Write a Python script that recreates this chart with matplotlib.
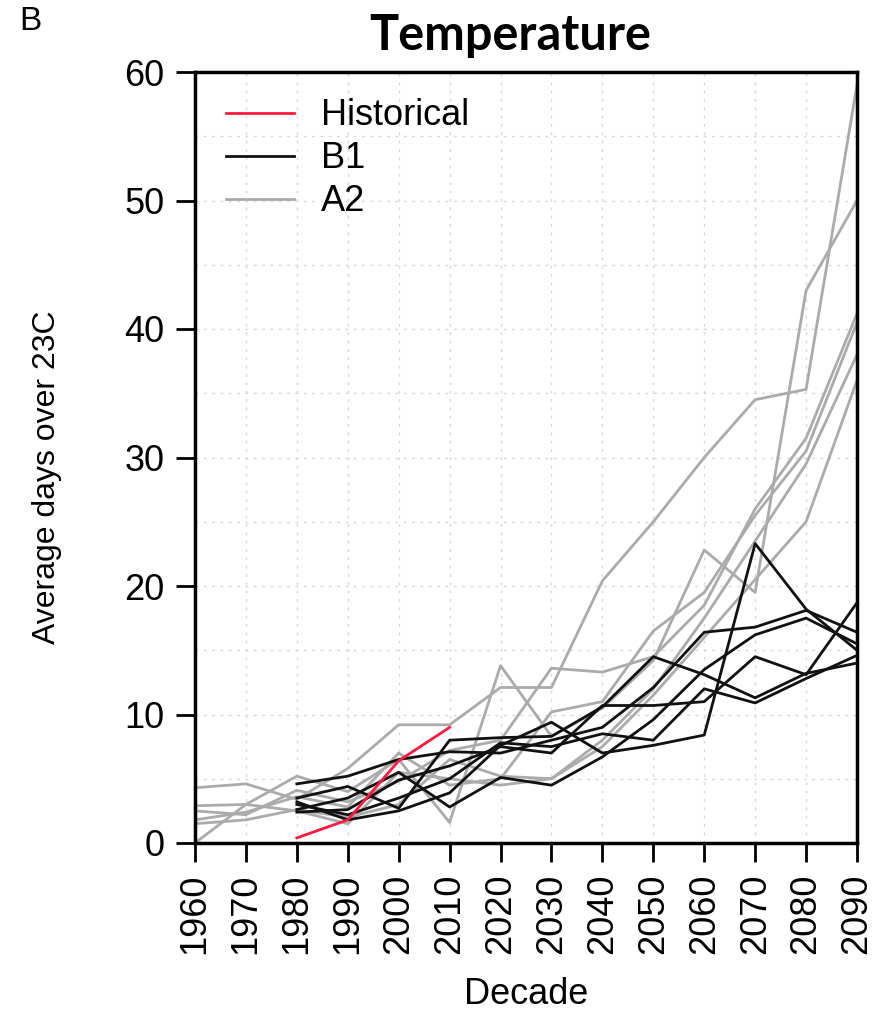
import matplotlib
matplotlib.use("Agg")
import matplotlib.pyplot as plt
import numpy as np

decades = [1960, 1970, 1980, 1990, 2000, 2010, 2020, 2030, 2040, 2050, 2060, 2070, 2080, 2090]
tick_labels = [str(d) for d in decades]

historical_decades = [1980, 1990, 2000, 2010]
historical = [0.4, 1.8, 6.4, 9.0]

b1_decades = decades[2:]
b1_runs = [
    [3.2, 1.8, 2.5, 3.9, 7.6, 9.4, 7.0, 7.6, 8.4, 23.3, 18.2, 15.0],
    [2.4, 2.6, 4.9, 6.0, 7.5, 7.0, 10.7, 10.7, 11.0, 14.5, 13.1, 18.7],
    [3.5, 4.4, 2.7, 8.0, 8.2, 8.3, 10.6, 14.5, 13.1, 11.3, 13.2, 14.0],
    [4.6, 5.2, 6.5, 7.1, 7.0, 8.0, 9.0, 12.1, 16.4, 16.8, 18.1, 16.4],
    [2.6, 3.5, 5.5, 2.8, 5.1, 4.5, 6.7, 9.6, 13.5, 16.2, 17.5, 15.5],
    [3.0, 2.2, 3.5, 5.0, 7.8, 7.5, 8.5, 8.0, 12.0, 10.9, 12.8, 14.6],
]

a2_runs = [
    [4.3, 4.6, 3.4, 5.8, 9.2, 9.2, 12.1, 12.1, 20.4, 25.0, 30.0, 34.5, 35.3, 59.0],
    [2.9, 3.0, 5.2, 4.0, 6.5, 1.6, 13.8, 8.3, 10.5, 14.2, 22.8, 19.5, 43.0, 50.0],
    [2.5, 2.2, 4.1, 3.2, 4.8, 7.2, 8.0, 13.6, 13.3, 14.5, 18.5, 26.0, 31.5, 41.2],
    [1.8, 2.4, 3.6, 2.8, 7.0, 4.5, 5.0, 10.2, 11.0, 16.5, 19.5, 25.5, 30.5, 40.5],
    [1.5, 1.8, 2.6, 2.0, 3.0, 6.5, 5.2, 5.0, 8.0, 12.0, 17.5, 23.5, 29.5, 38.0],
    [0.0, 3.0, 2.5, 1.5, 5.5, 5.0, 4.5, 5.0, 7.5, 11.5, 16.0, 20.5, 25.0, 36.0],
]

plt.rcParams['font.family'] = ['Liberation Sans', 'DejaVu Sans']

fig = plt.figure(figsize=(8.85, 10.11), dpi=100)
ax = fig.add_axes([195/885, 1-843/1011, (857-195)/885, (843-72)/1011])

gray = '#ababab'
for i, run in enumerate(a2_runs):
    ax.plot(decades, run, color=gray, lw=2.0, label='A2' if i == 0 else None, zorder=2)
for i, run in enumerate(b1_runs):
    ax.plot(b1_decades, run, color='#111111', lw=2.0, label='B1' if i == 0 else None, zorder=3)
ax.plot(historical_decades, historical, color='#ff1a3c', lw=2.0, label='Historical', zorder=4)

ax.set_xlim(1960, 2090)
ax.set_ylim(0, 60)
ax.set_xticks(decades)
ax.set_xticklabels(tick_labels, rotation=90, fontsize=26)
ax.set_yticks([0, 10, 20, 30, 40, 50, 60])
ax.tick_params(axis='y', labelsize=26)
ax.tick_params(direction='out', length=14, width=2.0, pad=8)

for d in decades:
    ax.axvline(d, color='#d8d8d8', lw=1.0, ls=(0, (2, 4)), zorder=1)
for v in range(5, 60, 5):
    ax.axhline(v, color='#d8d8d8', lw=1.0, ls=(0, (2, 4)), zorder=1)

for s in ax.spines.values():
    s.set_linewidth(2.5)
    s.set_color('black')

ax.set_xlabel('Decade', fontsize=26)
ax.xaxis.set_label_coords(0.5, (843-995)/771)
ax.xaxis.label.set_va('center')
ax.set_ylabel('Average days over 23C', fontsize=23)
ax.yaxis.set_label_coords((47-195)/662, 0.475)
ax.yaxis.label.set_va('center')

h, l = ax.get_legend_handles_labels()
order = [l.index('Historical'), l.index('B1'), l.index('A2')]
ax.legend([h[i] for i in order], [l[i] for i in order], loc='upper left',
          bbox_to_anchor=(-0.003, 1.008), frameon=False, fontsize=26,
          handlelength=1.9, handletextpad=0.75, labelspacing=0.22)

fig.text(510/885, 1-35/1011, 'Temperature', ha='center', va='center',
         fontsize=35, fontweight='bold', family=['Lato', 'DejaVu Sans'])
fig.text(30/885, 1-22/1011, 'B', ha='center', va='center', fontsize=24)

fig.savefig('out.png', dpi=100)
